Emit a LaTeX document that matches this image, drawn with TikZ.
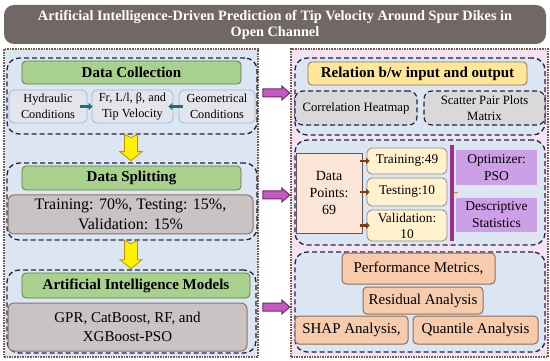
\documentclass[tikz,border=0pt]{standalone}
\usepackage{fontspec}
\setmainfont{Liberation Serif}
\usetikzlibrary{fit,arrows.meta,calc}
\definecolor{titlegray}{HTML}{716866}
\definecolor{panelblue}{HTML}{DCE6F2}
\definecolor{panelpink}{HTML}{F5E3F3}
\definecolor{dotbrown}{HTML}{7A5A4A}
\definecolor{dashnavy}{HTML}{1E2742}
\definecolor{hdrgreen}{HTML}{A9D18E}
\definecolor{hdrgreenline}{HTML}{5A7A46}
\definecolor{hdryellow}{HTML}{FFE699}
\definecolor{boxgray}{HTML}{C9C3C3}
\definecolor{boxgrayline}{HTML}{8C7468}
\definecolor{lightbox}{HTML}{E4E4EC}
\definecolor{lightboxline}{HTML}{9DBAD6}
\definecolor{corrgray}{HTML}{D9D9D9}
\definecolor{peach}{HTML}{F8CBAD}
\definecolor{peachline}{HTML}{8A7060}
\definecolor{lightpeach}{HTML}{FBE5D6}
\definecolor{creamy}{HTML}{FFF2CC}
\definecolor{lavender}{HTML}{CC9FE6}
\definecolor{barpurple}{HTML}{9B2D8E}
\definecolor{tealarrow}{HTML}{1F6E7A}
\definecolor{brownarrow}{HTML}{843C0C}
\definecolor{magfill}{HTML}{C55AC5}
\definecolor{magline}{HTML}{6B2A6B}
\definecolor{yellowline}{HTML}{BF9000}
\newcommand{\ftitle}{\fontsize{14.3}{16}\selectfont\bfseries}
\newcommand{\fhead}{\fontsize{15}{18}\selectfont\bfseries}
\newcommand{\fsmall}{\fontsize{12.3}{16.5}\selectfont}
\newcommand{\fcorr}{\fontsize{12.7}{15.5}\selectfont}
\newcommand{\fbig}{\fontsize{16}{20}\selectfont}
\newcommand{\fmed}{\fontsize{15}{19}\selectfont}
\newcommand{\fdp}{\fontsize{14}{17}\selectfont}
\newcommand{\ftr}{\fontsize{13.3}{16}\selectfont}
\newcommand{\fopt}{\fontsize{13.5}{17}\selectfont}
% \bx[style]{name}{x1}{y1}{x2}{y2}{text}
\newcommand{\bx}[7][]{\node[#1, minimum width={#5-#3}, minimum height={#6-#4}] (#2) at ({(#3+#5)/2},{(#4+#6)/2}) {#7};}
\begin{document}
\begin{tikzpicture}[x=1pt,y=-1pt,
  fb/.style={inner sep=0pt, align=center},
  titlebox/.style={fb, fill=titlegray, rounded corners=10pt, text=white, font=\ftitle},
  panelL/.style={fb, fill=panelblue, draw=dotbrown, densely dotted, line width=1.6pt},
  panelR/.style={fb, fill=panelpink, draw=dotbrown, densely dotted, line width=1.6pt},
  dashbox/.style={fb, fill=panelblue, draw=dashnavy, dash pattern=on 5pt off 3pt, line width=1.3pt, rounded corners=12pt},
  greenhdr/.style={fb, fill=hdrgreen, draw=hdrgreenline, line width=0.8pt, rounded corners=4pt, font=\fhead},
  yellowhdr/.style={fb, fill=hdryellow, draw=peachline, line width=0.8pt, rounded corners=4pt, font=\fhead},
  graybox/.style={fb, fill=boxgray, draw=boxgrayline, line width=1pt, rounded corners=6pt},
  condbox/.style={fb, fill=lightbox, draw=lightboxline, line width=0.8pt, rounded corners=5pt, font=\fsmall},
  corrbox/.style={fb, fill=corrgray, draw=dashnavy, dash pattern=on 5pt off 3pt, line width=1.2pt, rounded corners=8pt, font=\fcorr},
  peachbox/.style={fb, fill=peach, draw=peachline, line width=1pt, rounded corners=4pt, font=\fmed},
  dpbox/.style={fb, fill=lightpeach, draw=black!65, line width=0.8pt, font=\fdp},
  creambox/.style={fb, fill=creamy, draw=black!45, line width=0.8pt, rounded corners=5pt, font=\ftr},
  lavbox/.style={fb, fill=lavender, font=\fopt},
  tealarr/.style={draw=tealarrow, line width=3pt, -{Triangle[length=4pt,width=7pt]}},
  brownarr/.style={draw=brownarrow, line width=2.5pt, -{Triangle[length=3.5pt,width=6.5pt]}},
  magarr/.style={fill=magfill, draw=magline, line width=1pt, line join=miter},
  yelarr/.style={fill=yellow, draw=yellowline, line width=0.8pt, line join=miter}
]
\useasboundingbox (0,0) rectangle (550,361);

% title
\bx[titlebox]{title}{4}{5}{546}{44}{Artificial Intelligence-Driven Prediction of Tip Velocity Around Spur Dikes in\\Open Channel}

% panels
\node[panelL, fit={(4,49) (258,357)}] (L) {};
\node[panelR, fit={(291,49) (548,357)}] (R) {};

% left sections
\node[dashbox, fit={(7,58) (257,134)}] (dcbox) {};
\node[dashbox, fit={(7,163) (257,240)}] (dsbox) {};
\node[dashbox, fit={(7,270) (256,353)}] (aibox) {};

\bx[greenhdr]{dch}{22}{61}{241}{84}{Data Collection}
\bx[condbox]{hyd}{9}{90}{87}{123}{Hydraulic\\Conditions}
\bx[condbox]{mid}{92}{90}{173}{123}{Fr, L/l, β, and\\Tip Velocity}
\bx[condbox]{geo}{179}{90}{255}{123}{Geometrical\\Conditions}

\bx[greenhdr]{dsh}{22}{166}{241}{190}{Data Splitting}
\bx[graybox, font=\fbig]{dsb}{8}{195}{253}{234}{Training: 70\%, Testing: 15\%,\\Validation: 15\%}

\bx[greenhdr]{aih}{22}{273}{250}{298}{Artificial Intelligence Models}
\bx[graybox, font=\fmed]{aib}{8}{303}{247}{351}{GPR, CatBoost, RF, and\\XGBoost-PSO}

% right sections
\node[dashbox, fit={(295,58) (545,135)}] (r1box) {};
\node[dashbox, fit={(295,140) (545,245)}] (r2box) {};
\node[dashbox, fit={(295,252) (545,352)}] (r3box) {};

\bx[yellowhdr]{rh}{308}{62}{527}{85}{Relation b/w input and output}
\bx[corrbox]{corr}{295}{91}{417}{125}{Correlation Heatmap}
\bx[corrbox]{scat}{424}{91}{545}{125}{Scatter Pair Plots\\Matrix}

\bx[dpbox]{dp}{296}{153}{362}{233}{Data\\Points:\\69}
\bx[creambox]{tr}{367}{148}{447}{174}{Training:49}
\bx[creambox]{te}{367}{178}{447}{206}{Testing:10}
\bx[creambox]{va}{367}{210}{447}{241}{Validation:\\10}
\node[fb, fill=barpurple, fit={(450,145) (454,241)}] (bar) {};
\bx[lavbox]{opt}{456}{150}{537}{185}{Optimizer:\\PSO}
\bx[lavbox]{desc}{456}{198}{537}{232}{Descriptive\\Statistics}
\draw[draw=orange!70!brown, line width=1pt] (bar.east) -- ++(4,0);

\bx[peachbox]{pm}{342}{253}{495}{284}{Performance Metrics,}
\bx[peachbox]{ra}{363}{287}{483}{314}{Residual Analysis}
\bx[peachbox]{shap}{295}{316}{408}{344}{SHAP Analysis,}
\bx[peachbox]{qa}{413}{316}{538}{344}{Quantile Analysis}

% small connectors
\draw[tealarr] ($(hyd.east)+(-7,0)$) -- ($(mid.west)+(1,0)$);
\draw[tealarr] ($(geo.west)+(4,0)$) -- ($(mid.east)+(-5,0)$);
\draw[brownarr] ($(dp.east |- tr.west)+(-2,0)$) -- ($(tr.west)+(3,0)$);
\draw[brownarr] ($(dp.east |- te.west)+(-2,0)$) -- ($(te.west)+(3,0)$);
\draw[brownarr] ($(dp.east |- va.west)+(-2,0)$) -- ($(va.west)+(3,0)$);

% magenta block arrows between panels
\coordinate (m1) at ($(L.east |- 0,93)+(4,0)$);
\coordinate (m2) at ($(L.east |- 0,195)+(4,0)$);
\coordinate (m3) at ($(L.east |- 0,307)+(4,0)$);
\foreach \m in {m1,m2,m3}{
  \draw[magarr] (\m) ++(0,-4) -- ++(19,0) -- ++(0,-3) -- ++(8,7) -- ++(-8,7) -- ++(0,-3) -- ++(-19,0) -- cycle;
}

% yellow block arrows
\coordinate (y1) at ($(dcbox.south)+(-1,0)$);
\coordinate (y2) at ($(dsbox.south)+(-1,0)$);
\foreach \y/\len in {y1/17,y2/19}{
  \draw[yelarr] (\y) ++(-6.5,0) -- ++(6.5,3) -- ++(6.5,-3) -- ++(0,\len) -- ++(4.5,0) -- ++(-11,9) -- ++(-11,-9) -- ++(4.5,0) -- cycle;
}
\end{tikzpicture}
\end{document}
